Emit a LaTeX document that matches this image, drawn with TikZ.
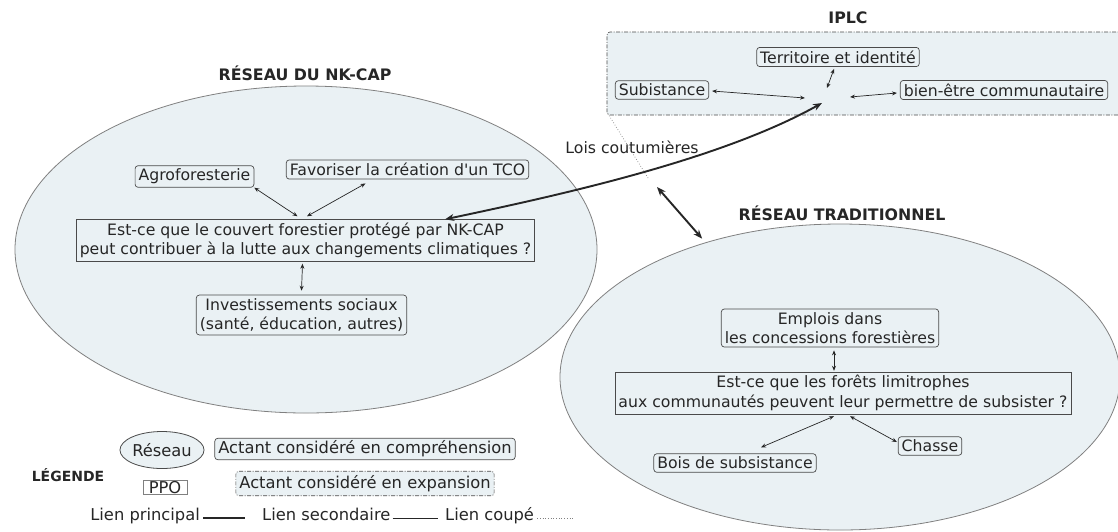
\documentclass[tikz,border=0pt]{standalone}
\usepackage{fontspec}
\setmainfont{DejaVu Sans}
\usetikzlibrary{shapes.geometric,arrows.meta,calc}

\definecolor{netfill}{HTML}{EAF1F4}
\definecolor{ink}{HTML}{262626}
\definecolor{edge}{HTML}{4A4A4A}
\definecolor{rim}{HTML}{808080}

\begin{document}
\begin{tikzpicture}[x=1pt,y=-1pt,
  every node/.style={text=ink, font=\fontsize{15.7}{19.5}\selectfont},
  network/.style={ellipse, draw=rim, fill=netfill, line width=0.8pt, inner sep=0pt},
  actant/.style={draw=edge, fill=netfill, rounded corners=3pt, line width=0.7pt,
    align=center, inner xsep=3.5pt, inner ysep=3.2pt},
  question/.style={draw=edge, fill=netfill, line width=0.7pt, align=center,
    inner xsep=3.5pt, inner ysep=3.2pt},
  expansion/.style={draw=edge, fill=netfill, rounded corners=3pt, line width=0.6pt,
    dash pattern=on 4pt off 1.5pt on 1pt off 1.5pt},
  title/.style={font=\fontsize{15.8}{18}\selectfont\bfseries},
  legtext/.style={font=\fontsize{16.3}{19}\selectfont},
  link/.style={draw=ink, line width=0.7pt,
    {Stealth[length=5pt,width=4pt]}-{Stealth[length=5pt,width=4pt]}},
  mainlink/.style={draw=ink, line width=1.9pt,
    {Stealth[length=9pt,width=7pt]}-{Stealth[length=9pt,width=7pt]}},
  cutlink/.style={draw=rim, line width=0.7pt, dotted}
]
\useasboundingbox (0,0) rectangle (1118,531);
\fill[white] (0,0) rectangle (1118,531);

% the two networks and the IPLC group
\node[network, minimum width=582pt, minimum height=327pt] (nk) at (306,249.5) {};
\node[network, minimum width=560pt, minimum height=306pt] (trad) at (840,377) {};
\node[expansion, minimum width=520pt, minimum height=83pt] (iplc) at (867,73.5) {};

% titles
\node[title] (tnk) at (305,73) {RÉSEAU DU NK-CAP};
\node[title] (ttrad) at (842,213) {RÉSEAU TRADITIONNEL};
\node[title] (tiplc) at (848,18) {IPLC};

% NK-CAP network
\node[actant] (agro) at (194.5,176.5) {Agroforesterie};
\node[actant] (fav) at (407.5,169.5) {Favoriser la création d\textquotesingle un TCO};
\node[question] (qnk) at (305.5,240.5) {Est-ce que le couvert forestier protégé par NK-CAP\\peut contribuer à la lutte aux changements climatiques ?};
\node[actant] (inv) at (301.5,315) {Investissements sociaux\\(santé, éducation, autres)};

% IPLC
\node[actant] (terr) at (838,57) {Territoire et identité};
\node[actant] (sub) at (662,90) {Subistance};
\node[actant] (bien) at (1004,90) {bien-être communautaire};
\coordinate (hub) at (826,97);

% traditional network
\node[actant] (empl) at (830,328) {Emplois dans\\les concessions forestières};
\node[question] (qtr) at (843,393) {Est-ce que les forêts limitrophes\\aux communautés peuvent leur permettre de subsister ?};
\node[actant] (bois) at (735,463) {Bois de subsistance};
\node[actant] (chasse) at (930,446) {Chasse};

\node (lois) at (632,147) {Lois coutumières};

% secondary links
\draw[link] (agro.south east) -- ($(qnk.north)+(-8,-3)$);
\draw[link] ($(fav.south)+(-42,4)$) -- ($(qnk.north)+(1.5,-3)$);
\draw[link] ($(qnk.south)+(-3,2)$) -- ($(inv.north)+(0,-4)$);

\draw[link] ($(sub.east)+(3,1)$) -- ($(hub)+(-21,1)$);
\draw[link] ($(terr.south)+(-4,2)$) -- ($(hub)+(1,-9)$);
\draw[link] ($(hub)+(24,0)$) -- ($(bien.west)+(-3,3)$);

\draw[link] ($(empl.south)+(4,3)$) -- ($(qtr.north)+(-9,-1)$);
\draw[link] ($(qtr.south)+(-9,2)$) -- ($(bois.north)+(26,-6)$);
\draw[link] ($(qtr.south)+(7,2)$) -- ($(chasse.west)+(-1,-4)$);

% main links
\draw[mainlink] ($(qnk.north east)+(-90,0)$) .. controls (560,195) and (720,160) .. ($(hub)+(-4,6)$);
\coordinate (loisend) at (657,187);
\draw[mainlink, shorten >=5pt] (loisend) -- (trad.135);

% cut link
\coordinate (cutend) at (648,178);
\draw[cutlink] ($(iplc.south west)+(1,-2)$) -- (cutend);

% legend
\node[font=\fontsize{14}{18}\selectfont\bfseries] (leg) at (68,475) {LÉGENDE};
\node[network, draw=edge, legtext, minimum width=69pt, minimum height=37pt] (lres) at (162,450) {Réseau};
\node[draw=rim, line width=0.8pt, inner xsep=3pt, inner ysep=0.5pt,
      legtext, minimum width=44pt] (lppo) at (165,487.5) {PPO};
\node[actant, legtext, inner ysep=2.5pt] (lcomp) at (365,449) {Actant considéré en compréhension};
\node[expansion, legtext, inner xsep=3.5pt, inner ysep=4pt] (lexp) at (365,483.5) {Actant considéré en expansion};

\node[anchor=mid east, inner sep=0pt, legtext] (lprin) at (200,518) {Lien principal};
\node[anchor=mid west, inner sep=0pt, legtext] (lsec) at (262,518) {Lien secondaire};
\node[anchor=mid west, inner sep=0pt, legtext] (lcoup) at (445,518) {Lien coupé};
\coordinate (lend) at (573,518);
\draw[draw=ink, line width=1.8pt, shorten <=3pt, shorten >=17pt] (lprin.mid east) -- (lsec.mid west);
\draw[draw=ink, line width=0.7pt, shorten <=2pt, shorten >=7pt] (lsec.mid east) -- (lcoup.mid west);
\draw[cutlink, shorten <=3pt] (lcoup.mid east) -- (lend);
\end{tikzpicture}
\end{document}
